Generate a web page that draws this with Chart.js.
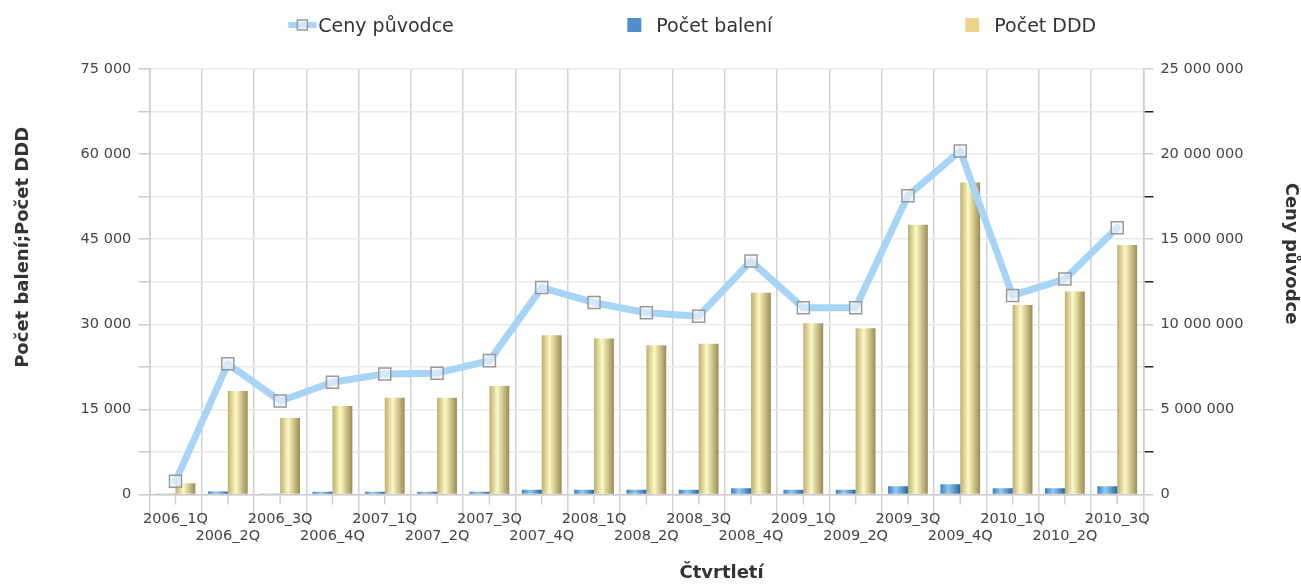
<!DOCTYPE html>
<html>
<head>
<meta charset="utf-8">
<script src="https://cdn.jsdelivr.net/npm/chart.js@4"></script>
<style>
  html, body { margin: 0; padding: 0; background: #fff; }
  #wrap { width: 1301px; height: 585px; }
</style>
</head>
<body>
<div id="wrap"><canvas id="myChart"></canvas></div>
<script>
const quarters = [
  "2006_1Q", "2006_2Q", "2006_3Q", "2006_4Q",
  "2007_1Q", "2007_2Q", "2007_3Q", "2007_4Q",
  "2008_1Q", "2008_2Q", "2008_3Q", "2008_4Q",
  "2009_1Q", "2009_2Q", "2009_3Q", "2009_4Q",
  "2010_1Q", "2010_2Q", "2010_3Q"
];
const cenyPuvodce = [
  790000, 7680000, 5500000, 6600000, 7090000, 7130000, 7870000,
  12160000, 11280000, 10680000, 10480000, 13720000, 10970000, 10970000,
  17560000, 20190000, 11700000, 12660000, 15680000
];
const pocetBaleni = [
  200, 560, 200, 520, 520, 520, 520, 850, 850, 850,
  850, 1130, 850, 850, 1450, 1830, 1130, 1130, 1450
];
const pocetDDD = [
  1980, 18260, 13500, 15600, 17080, 17080, 19150, 28090, 27500, 26300,
  26600, 35560, 30200, 29300, 47560, 55000, 33400, 35800, 43970
];
const legendColors = ["#a6d5f7", "#4f8fd0", "#f1d28a"];

const fmt = v => String(v).replace(/\B(?=(\d{3})+(?!\d))/g, " ");
const catPct = 0.76;

// cylinder look: horizontal gradient over each bar
function barFill(stops, side) {
  return function (c) {
    const x = c.chart.scales.x;
    if (!x || c.dataIndex === undefined) return stops[1];
    const half = x.width / quarters.length * catPct / 2;
    const mid = x.getPixelForValue(c.dataIndex);
    if (!isFinite(half) || !isFinite(mid) || half <= 0) return stops[1];
    const x0 = side < 0 ? mid - half : mid;
    const g = c.chart.ctx.createLinearGradient(x0, 0, x0 + half, 0);
    g.addColorStop(0, stops[0]);
    g.addColorStop(0.4, stops[1]);
    g.addColorStop(1, stops[2]);
    return g;
  };
}

const topLegend = {
  id: "topLegend",
  afterDraw(chart) {
    const { ctx, chartArea } = chart;
    const step = chartArea.width * 0.34;
    ctx.save();
    ctx.font = '19px "DejaVu Sans"';
    ctx.textBaseline = "alphabetic";
    chart.data.datasets.forEach((ds, i) => {
      const x = chartArea.left + 139 + i * step;
      const y = 25;
      if (ds.type === "line") {
        ctx.strokeStyle = legendColors[i];
        ctx.lineWidth = 6;
        ctx.beginPath();
        ctx.moveTo(x, y);
        ctx.lineTo(x + 28, y);
        ctx.stroke();
        ctx.fillStyle = "rgba(240,244,248,0.6)";
        ctx.fillRect(x + 9, y - 5, 10, 10);
        ctx.strokeStyle = "#999";
        ctx.lineWidth = 1.5;
        ctx.strokeRect(x + 9, y - 5, 10, 10);
      } else {
        ctx.fillStyle = legendColors[i];
        ctx.fillRect(x + 1, y - 7, 14, 14);
      }
      ctx.fillStyle = "#333";
      ctx.fillText(ds.label, x + 30, 32);
    });
    ctx.restore();
  }
};

const centerTicks = {
  id: "centerTicks",
  afterDraw(chart) {
    const { ctx, chartArea } = chart;
    const x = chart.scales.x;
    ctx.save();
    ctx.strokeStyle = "#cfcfcf";
    ctx.lineWidth = 1.5;
    quarters.forEach((q, i) => {
      const px = x.getPixelForTick(i);
      ctx.beginPath();
      ctx.moveTo(px, chartArea.bottom);
      ctx.lineTo(px, chartArea.bottom + 10);
      ctx.stroke();
    });
    ctx.restore();
  }
};

Chart.defaults.font.family = '"DejaVu Sans", sans-serif';

const tickFont = { size: 14.5 };
const titleFont = { size: 18, weight: "bold" };

const ctx = document.getElementById("myChart").getContext("2d");
const myChart = new Chart(ctx, {
  type: "bar",
  data: {
    labels: quarters,
    datasets: [
      {
        type: "line",
        label: "Ceny původce",
        data: cenyPuvodce,
        yAxisID: "y1",
        borderColor: "#a6d5f7",
        borderWidth: 7,
        borderJoinStyle: "round",
        borderCapStyle: "round",
        tension: 0,
        pointStyle: "rect",
        pointRadius: 8.5,
        pointBorderColor: "#999",
        pointBorderWidth: 1.5,
        pointBackgroundColor: "rgba(240,244,248,0.6)"
      },
      {
        label: "Počet balení",
        data: pocetBaleni,
        yAxisID: "y",
        backgroundColor: barFill(["#3b7cbf", "#8fcdf3", "#2c66a3"], -1),
        barPercentage: 1,
        categoryPercentage: catPct
      },
      {
        label: "Počet DDD",
        data: pocetDDD,
        yAxisID: "y",
        backgroundColor: barFill(["#bfae70", "#fcf9c2", "#9c8b52"], 1),
        barPercentage: 1,
        categoryPercentage: catPct
      }
    ]
  },
  options: {
    responsive: true,
    maintainAspectRatio: false,
    animation: false,
    events: [],
    layout: { padding: { top: 69, left: 0, right: 0, bottom: 0 } },
    plugins: {
      legend: { display: false },
      tooltip: { enabled: false }
    },
    scales: {
      x: {
        offset: true,
        grid: { offset: true, color: "#d2d2d2", lineWidth: 1.5, tickLength: 28 },
        border: { color: "#ccc", width: 1.5 },
        ticks: {
          autoSkip: false,
          maxRotation: 0,
          minRotation: 0,
          padding: -12,
          color: "#444",
          font: tickFont,
          callback: (v, i) => (i % 2 ? ["", quarters[i]] : quarters[i])
        },
        title: {
          display: true,
          text: " ".repeat(24) + "Čtvrtletí",
          color: "#333",
          font: titleFont,
          padding: { top: 29, bottom: 1 }
        }
      },
      y: {
        position: "left",
        min: 0,
        max: 75000,
        ticks: {
          stepSize: 7500,
          padding: 7,
          color: "#444",
          font: tickFont,
          callback: v => (v % 15000 === 0 ? fmt(v) : "")
        },
        grid: { color: "#e9e9e9", lineWidth: 1.5, tickLength: 11, tickColor: "#ccc" },
        border: { color: "#ccc", width: 1.5 },
        title: {
          display: true,
          text: " ".repeat(11) + "Počet balení;Počet DDD",
          color: "#333",
          font: titleFont,
          padding: { top: 13, bottom: 39 }
        }
      },
      y1: {
        position: "right",
        min: 0,
        max: 25000000,
        ticks: {
          stepSize: 2500000,
          padding: 7,
          color: "#444",
          font: tickFont,
          callback: v => (v % 5000000 === 0 ? fmt(v) : "")
        },
        grid: {
          drawOnChartArea: false,
          tickLength: 10,
          lineWidth: 1.5,
          tickColor: c => (c.tick && c.tick.value % 5000000 === 0 ? "#ccc" : "#222")
        },
        border: { color: "#ccc", width: 1.5 },
        title: {
          display: true,
          text: "Ceny původce" + " ".repeat(9),
          color: "#333",
          font: titleFont,
          padding: { top: 0, bottom: 29 }
        }
      }
    }
  },
  plugins: [topLegend, centerTicks]
});
</script>
</body>
</html>
